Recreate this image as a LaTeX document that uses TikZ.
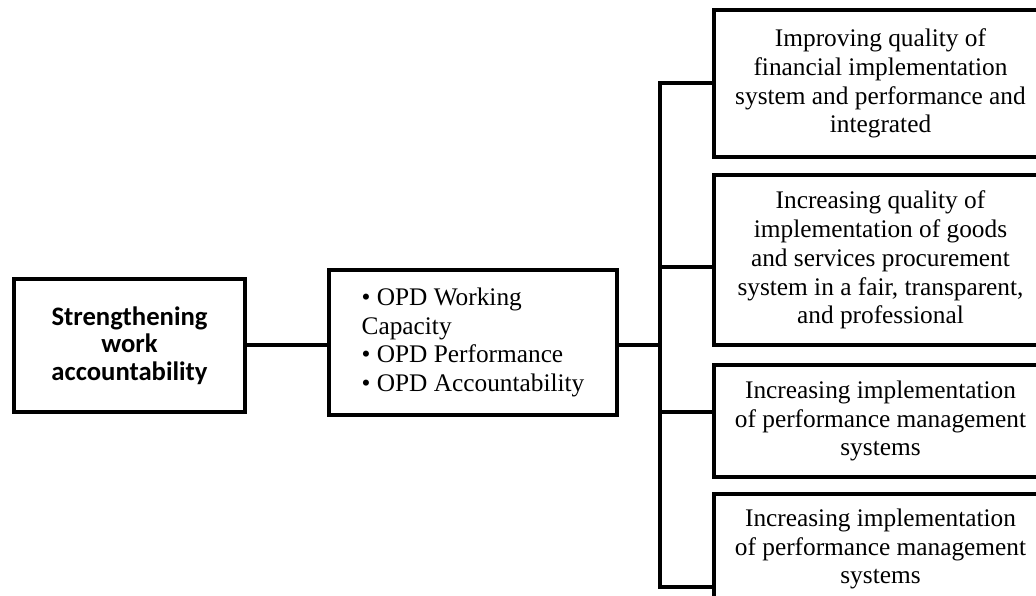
\documentclass[tikz,border=0pt]{standalone}
\usepackage{fontspec}
\setmainfont{Liberation Serif}
\newfontfamily\boxsans{Carlito}
\tikzset{
  bx/.style={draw=black, line width=3pt, fill=white, inner sep=0pt, anchor=north west, align=center,
    font=\fontsize{19}{21.6}\selectfont},
  conn/.style={draw=black, line width=3pt, line cap=rect}
}
\begin{document}
\begin{tikzpicture}[x=0.75pt,y=-0.75pt]
\useasboundingbox (0,0) rectangle (1036,596);
\clip (0,0) rectangle (1036,596);
\fill[white] (0,0) rectangle (1036,596);
\coordinate (ja) at (660,83);
\coordinate (jb) at (660,267);
\coordinate (jm) at (660,345);
\coordinate (jc) at (660,412);
\coordinate (jd) at (660,587);
\node[bx, minimum width=173.25pt, minimum height=99.75pt, font=\boxsans\bfseries\fontsize{20}{20.8}\selectfont] (s) at (12,277) {Strengthening\\work\\accountability};
\node[bx, minimum width=216pt, minimum height=108.75pt, align=left] (m) at (327,268) {• OPD Working\\Capacity\\• OPD Performance\\• OPD Accountability};
\node[bx, minimum width=249.75pt, minimum height=110.25pt] (a) at (712,8) {Improving quality of\\financial implementation\\system and performance and\\integrated};
\node[bx, minimum width=249.75pt, minimum height=127.5pt] (b) at (712,173) {Increasing quality of\\implementation of goods\\and services procurement\\system in a fair, transparent,\\and professional};
\node[bx, minimum width=249.75pt, minimum height=84pt] (c) at (712,363) {Increasing implementation\\of performance management\\systems};
\node[bx, minimum width=249.75pt, minimum height=82.5pt] (d) at (712,492) {Increasing implementation\\of performance management\\systems};
\draw[conn] (s.east |- jm) -- (m.west |- jm);
\draw[conn] (m.east |- jm) -- (jm);
\draw[conn, line cap=butt] (ja) -- (jd);
\draw[conn] (ja) -- (ja -| a.west);
\draw[conn] (jb) -- (jb -| b.west);
\draw[conn] (jc) -- (jc -| c.west);
\draw[conn] (jd) -- (jd -| d.west);
\end{tikzpicture}
\end{document}
